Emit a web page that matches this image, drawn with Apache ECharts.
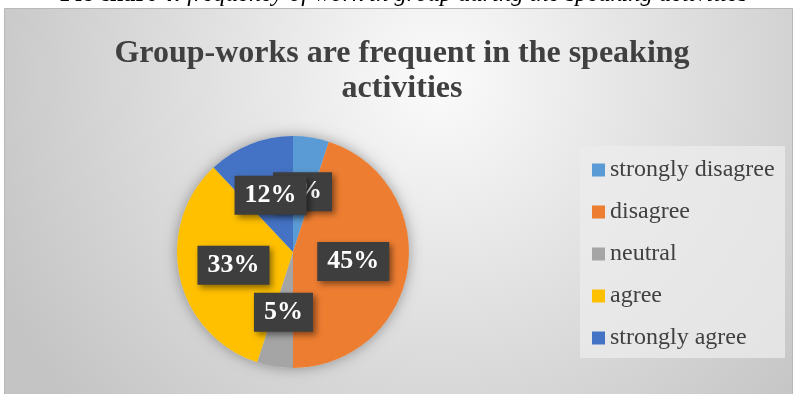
<!DOCTYPE html>
<html>
<head>
<meta charset="utf-8">
<script src="https://cdn.jsdelivr.net/npm/echarts@6/dist/echarts.min.js"></script>
<style>
html,body{margin:0;padding:0;background:#ffffff;}
#chart{width:795px;height:394px;}
</style>
</head>
<body>
<div id="chart"></div>
<script>
const categories = ['strongly disagree', 'disagree', 'neutral', 'agree', 'strongly agree'];
const values = [5, 45, 5, 33, 12];
const colors = ['#5B9BD5', '#ED7D31', '#A5A5A5', '#FFC000', '#4472C4'];
const titleText = 'Group-works are frequent in the speaking\nactivities';
const captionBold = 'Pie chart 4: ';
const captionItalic = 'frequency of work in group during the speaking activities';

const chart = echarts.init(document.getElementById('chart'), null, {renderer: 'canvas'});
const serif = '"Liberation Serif", "Times New Roman", serif';

const option = {
  animation: false,
  graphic: [
    {
      type: 'text', left: 60, top: -18, z: 0,
      style: {
        text: '{b|' + captionBold + '}{i|' + captionItalic + '}',
        rich: {
          b: {fontFamily: serif, fontSize: 24.5, fontWeight: 'bold', fill: '#000', lineHeight: 24.5},
          i: {fontFamily: serif, fontSize: 24.5, fontStyle: 'italic', fill: '#000', lineHeight: 24.5}
        }
      }
    },
    {
      type: 'rect', left: 4, top: 8, z: 1,
      shape: {width: 788, height: 390},
      style: {
        fill: {
          type: 'radial', x: 0.55, y: 0.18, r: 1.25,
          colorStops: [
            {offset: 0, color: '#fbfbfb'},
            {offset: 0.45, color: '#e2e2e2'},
            {offset: 1, color: '#c4c4c4'}
          ]
        },
        stroke: '#b8b8b8', lineWidth: 1
      }
    },
    {
      type: 'rect', left: 580, top: 146, z: 2,
      shape: {width: 205, height: 212},
      style: {fill: 'rgba(236,236,236,0.75)'}
    }
  ],
  title: {
    text: titleText,
    left: 397, top: 31, textAlign: 'center',
    textStyle: {fontFamily: serif, fontSize: 32, fontWeight: 'bold', color: '#404040', lineHeight: 35}
  },
  legend: {
    orient: 'vertical', left: 592, top: 158, padding: 0,
    itemWidth: 13, itemHeight: 13, itemGap: 18, icon: 'rect',
    data: categories,
    textStyle: {fontFamily: serif, fontSize: 24, color: '#404040', lineHeight: 24}
  },
  series: [
    {
      type: 'pie', center: [293, 252], radius: 116, silent: true, z: 1,
      label: {show: false}, labelLine: {show: false},
      data: [{value: values.reduce((a, b) => a + b, 0), name: '', itemStyle: {color: '#d8d8d8', shadowBlur: 14, shadowColor: 'rgba(0,0,0,0.35)'}}],
      legendHoverLink: false
    },
    {
      type: 'pie', center: [293, 252], radius: 116, startAngle: 90, clockwise: true, z: 2,
      avoidLabelOverlap: false,
      labelLayout: {hideOverlap: false},
      data: categories.map((c, i) => ({name: c, value: values[i], itemStyle: {color: colors[i]}})),
      itemStyle: {borderWidth: 0},
      label: {
        show: true, position: 'inside',
        formatter: '{c}%',
        fontFamily: serif, fontSize: 26, fontWeight: 'bold', color: '#ffffff',
        backgroundColor: '#3e3e3e', padding: [7, 10, 6, 10],
        shadowColor: 'rgba(0,0,0,0.45)', shadowBlur: 6, shadowOffsetX: 3, shadowOffsetY: 3
      },
      labelLine: {show: false}
    }
  ]
};
chart.setOption(option);
</script>
</body>
</html>
